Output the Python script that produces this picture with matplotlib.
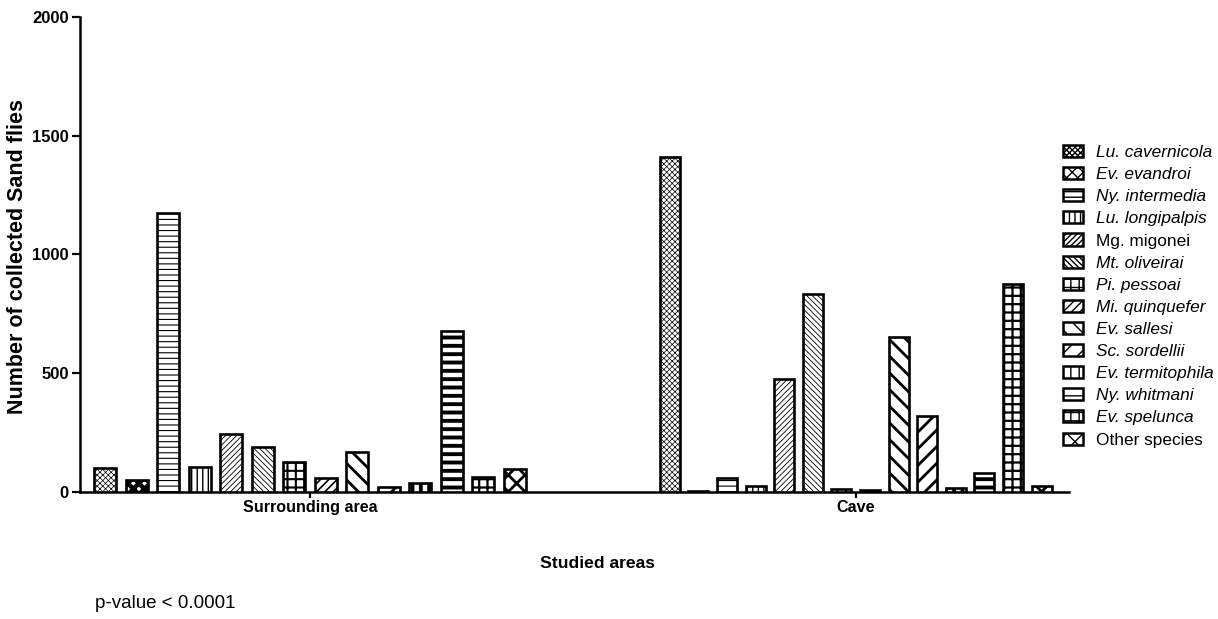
import numpy as np
import matplotlib.pyplot as plt
from matplotlib.patches import Patch

plt.rcParams['font.family'] = ['Liberation Sans', 'DejaVu Sans']

species = ["Lu. cavernicola", "Ev. evandroi", "Ny. intermedia", "Lu. longipalpis",
           "Mg. migonei", "Mt. oliveirai", "Pi. pessoai", "Mi. quinquefer",
           "Ev. sallesi", "Sc. sordellii", "Ev. termitophila", "Ny. whitmani",
           "Ev. spelunca", "Other species"]
areas = ["Surrounding area", "Cave"]
surrounding = [100, 50, 1175, 105, 245, 190, 125, 58, 168, 22, 38, 678, 63, 97]
cave = [1412, 4, 58, 27, 476, 832, 11, 8, 651, 320, 15, 81, 876, 27]
upright = ["Mg. migonei", "Other species"]

# hatch pattern and hatch line width for each species
hatches = ['xxxxxx', 'xxx', '---', '|||', '//////', '\\\\\\\\\\\\', '++', '////',
           '\\\\', '//', '||', '--', '++', 'xx']
hatch_lw = [0.5, 3.2, 0.8, 1.0, 0.6, 0.6, 1.5, 1.2, 2.0, 2.0, 2.8, 2.8, 1.6, 2.0]

# layout: one unit = bar spacing in the first group
group_center = [0.0, 17.33]
group_step = [1.0, 0.908]
bar_width = [0.70, 0.635]

fig = plt.figure(figsize=(12.18, 6.19), dpi=100)
ax = fig.add_axes([80 / 1218, 1 - 492 / 619, 989 / 1218, 475 / 619])

values = [surrounding, cave]
handles = []
for g in range(2):
    for i, sp in enumerate(species):
        x = group_center[g] + (i - 6.5) * group_step[g]
        with plt.rc_context({'hatch.linewidth': hatch_lw[i]}):
            b = ax.bar(x, values[g][i], width=bar_width[g], facecolor='white',
                       edgecolor='black', linewidth=1.9, hatch=hatches[i], zorder=3)
        for p in b:
            if hasattr(p, 'set_hatch_linewidth'):
                p.set_hatch_linewidth(hatch_lw[i])
        if g == 0:
            with plt.rc_context({'hatch.linewidth': hatch_lw[i]}):
                h = Patch(facecolor='white', edgecolor='black', linewidth=1.8,
                          hatch=hatches[i], label=sp)
            if hasattr(h, 'set_hatch_linewidth'):
                h.set_hatch_linewidth(hatch_lw[i])
            handles.append(h)

ax.set_xlim(-7.30, 24.10)
ax.set_ylim(0, 2000)
ax.set_yticks([0, 500, 1000, 1500, 2000])
ax.set_xticks(group_center)
ax.set_xticklabels(areas, fontsize=11.6, fontweight='bold')
for lab in ax.get_yticklabels():
    lab.set_fontweight('bold')
    lab.set_fontsize(12)
ax.tick_params(axis='y', length=6, width=1.6, pad=2)
ax.tick_params(axis='x', length=4, width=1.6, pad=2)
for s in ['top', 'right']:
    ax.spines[s].set_visible(False)
for s in ['left', 'bottom']:
    ax.spines[s].set_linewidth(1.8)

fig.text(18 / 1218, 1 - 256 / 619, 'Number of collected Sand flies', fontsize=15.5,
         fontweight='bold', rotation=90, ha='center', va='center')

fig.text(597 / 1218, 1 - 563 / 619, 'Studied areas', fontsize=12.6, fontweight='bold',
         ha='center', va='center')
fig.text(95 / 1218, 1 - 603 / 619, 'p-value < 0.0001', fontsize=13.5,
         ha='left', va='center')

leg = fig.legend(handles=handles, loc='upper left', bbox_to_anchor=(1063 / 1218, 1 - 145 / 619),
                 frameon=False, fontsize=12.4, handlelength=1.16, handleheight=0.7,
                 handletextpad=0.75, labelspacing=0.41, borderaxespad=0, borderpad=0)
for t in leg.get_texts():
    if t.get_text() not in upright:
        t.set_style('italic')

fig.savefig('out.png', dpi=100)
